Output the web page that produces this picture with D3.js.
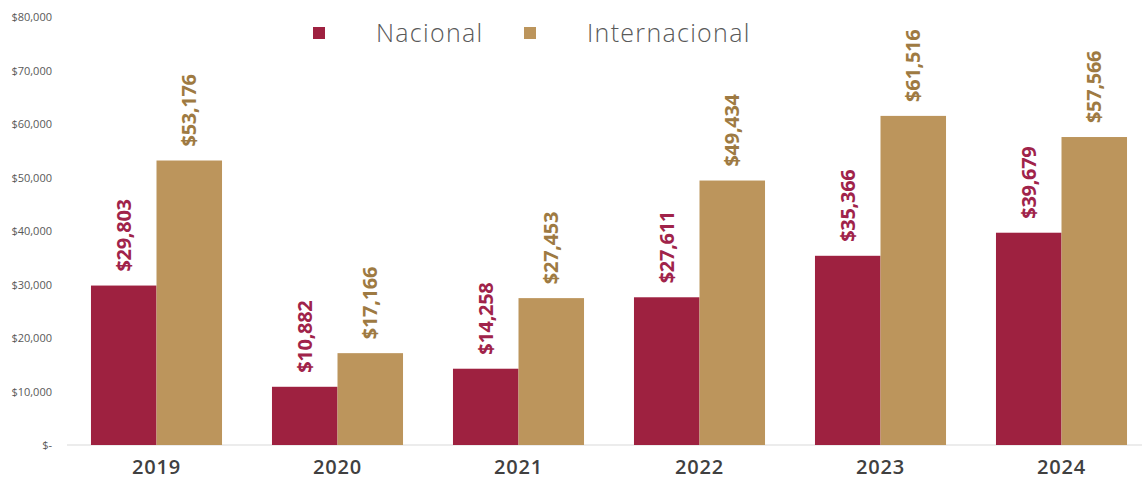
<html>
<head>
<script src="https://d3js.org/d3.v7.min.js"></script>
<style>
body { margin: 0; background: #fff; }
</style>
</head>
<body>
<svg id="chart" width="1144" height="477"></svg>
<script>
var years = ["2019", "2020", "2021", "2022", "2023", "2024"];
var nacional = [29803, 10882, 14258, 27611, 35366, 39679];
var internacional = [53176, 17166, 27453, 49434, 61516, 57566];
var series = ["Nacional", "Internacional"];
var yTicks = [0, 10000, 20000, 30000, 40000, 50000, 60000, 70000, 80000];

var colors = { "Nacional": "#9E2140", "Internacional": "#BC955C" };
var labelColors = { "Nacional": "#A0234A", "Internacional": "#9E7A42" };

var svg = d3.select("#chart");

var x0 = d3.scaleBand().domain(years).range([66, 1152]).paddingInner(0.276).paddingOuter(0.138);
var x1 = d3.scaleBand().domain(series).range([0, x0.bandwidth()]);
var y = d3.scaleLinear().domain([0, 80000]).range([445, 17]);

var data = years.map(function (yr, i) {
	return { year: yr, vals: [
		{ key: "Nacional", value: nacional[i] },
		{ key: "Internacional", value: internacional[i] }
	]};
});

// y axis labels
var fmt = d3.format(",");
var yAxis = d3.axisLeft(y).tickValues(yTicks).tickSize(0).tickPadding(0)
	.tickFormat(function (d) { return d === 0 ? "$-" : "$" + fmt(d); });
var ga = svg.append("g").attr("transform", "translate(52,0)").call(yAxis);
ga.select(".domain").remove();
ga.selectAll("text")
	.attr("fill", "#595959")
	.style("font-family", "'Open Sans', sans-serif")
	.style("font-size", "11px");

// baseline
svg.append("line")
	.attr("x1", 67).attr("x2", 1142)
	.attr("y1", y(0)).attr("y2", y(0))
	.attr("stroke", "#d9d9d9").attr("stroke-width", 1);

var groups = svg.selectAll("g.year").data(data).enter().append("g")
	.attr("class", "year")
	.attr("transform", function (d) { return "translate(" + x0(d.year) + ",0)"; });

groups.selectAll("rect").data(function (d) { return d.vals; }).enter().append("rect")
	.attr("x", function (d) { return x1(d.key); })
	.attr("width", x1.bandwidth())
	.attr("y", function (d) { return y(d.value); })
	.attr("height", function (d) { return y(0) - y(d.value); })
	.attr("fill", function (d) { return colors[d.key]; });

groups.selectAll("text.val").data(function (d) { return d.vals; }).enter().append("text")
	.attr("class", "val")
	.attr("transform", function (d) {
		return "translate(" + (x1(d.key) + x1.bandwidth() / 2 + 7) + "," + (y(d.value) - 14) + ") rotate(-90)";
	})
	.attr("fill", function (d) { return labelColors[d.key]; })
	.style("font-family", "'Open Sans', sans-serif")
	.style("font-weight", "bold")
	.style("font-size", "20px")
	.style("letter-spacing", "-0.3px")
	.text(function (d) { return "$" + fmt(d.value); });

// x labels
svg.selectAll("text.xl").data(years).enter().append("text")
	.attr("class", "xl")
	.attr("x", function (d) { return x0(d) + x0.bandwidth() / 2; })
	.attr("y", 474)
	.attr("text-anchor", "middle")
	.attr("fill", "#404040")
	.style("font-family", "'Open Sans', sans-serif")
	.style("font-weight", "600")
	.style("font-size", "20px")
	.style("letter-spacing", "0.8px")
	.text(function (d) { return d; });

// legend
var legendItems = [
	{ key: "Nacional", sx: 313, tx: 376 },
	{ key: "Internacional", sx: 524, tx: 587 }
];
var lg = svg.selectAll("g.legend").data(legendItems).enter().append("g").attr("class", "legend");
lg.append("rect")
	.attr("x", function (d) { return d.sx; })
	.attr("y", 27).attr("width", 12).attr("height", 12)
	.attr("fill", function (d) { return colors[d.key]; });
lg.append("text")
	.attr("x", function (d) { return d.tx; })
	.attr("y", 42)
	.attr("fill", "#595959")
	.style("font-family", "'Open Sans', sans-serif")
	.style("font-weight", "300")
	.style("font-size", "25px")
	.style("letter-spacing", "1.3px")
	.text(function (d) { return d.key; });
</script>
</body>
</html>
